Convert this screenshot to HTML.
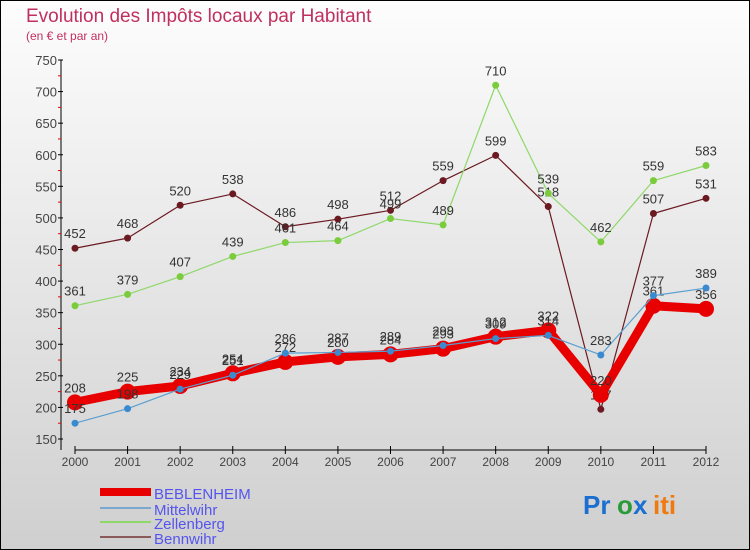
<!DOCTYPE html>
<html><head><meta charset="utf-8"><style>
body{margin:0;background:#fff}
svg{display:block;font-family:"Liberation Sans",sans-serif}
</style></head><body>
<svg id="c" width="750" height="550">
<defs><linearGradient id="bg" x1="0" y1="0" x2="0" y2="1"><stop offset="0" stop-color="#fdfdfd"/><stop offset="1" stop-color="#cfcfcf"/></linearGradient></defs>
<rect x="0.5" y="0.5" width="749" height="549" fill="url(#bg)" stroke="#000"/>
<text x="26" y="22" font-size="19" fill="#c0305f">Evolution des Impôts locaux par Habitant</text>
<text x="26" y="40" font-size="12" fill="#c0305f">(en € et par an)</text>
<g id="axes"></g><g id="series"></g><g id="legend"></g>
<g font-size="26" font-weight="bold">
<text x="583" y="514" fill="#1a6fd0">Pr</text><text x="617" y="514" fill="#2a9a3a">o</text><text x="633" y="514" fill="#1a6fd0">x</text><text x="653" y="514" fill="#f07a10">iti</text>
</g>
</svg>
<script>
const years=["2000","2001","2002","2003","2004","2005","2006","2007","2008","2009","2010","2011","2012"];
const yTicks=[150,200,250,300,350,400,450,500,550,600,650,700,750];
const beblenheim=[208,225,234,254,272,280,284,293,312,322,220,361,356];
const mittelwihr=[175,198,229,251,286,287,289,298,309,314,283,377,389];
const zellenberg=[361,379,407,439,461,464,499,489,710,539,462,559,583];
const bennwihr=[452,468,520,538,486,498,512,559,599,518,197,507,531];
const NS="http://www.w3.org/2000/svg";
function X(i){return 75+i*(706-75)/12;}
function Y(v){return 439-(v-150)*(439-60)/600;}
function mk(t,a,p){const e=document.createElementNS(NS,t);for(const k in a)e.setAttribute(k,a[k]);p.appendChild(e);return e;}
const ax=document.getElementById('axes');
mk('line',{x1:61,y1:Y(750),x2:61,y2:450,stroke:'#000'},ax);
mk('line',{x1:75,y1:450,x2:706,y2:450,stroke:'#000'},ax);
yTicks.forEach(v=>{
 mk('line',{x1:58,y1:Y(v),x2:63,y2:Y(v),stroke:'#000'},ax);
 if(v<750)mk('line',{x1:58,y1:Y(v+25),x2:61,y2:Y(v+25),stroke:'#e00'},ax);
 const t=mk('text',{x:57,y:Y(v)+5,'font-size':13,fill:'#444','text-anchor':'end'},ax);t.textContent=v;
 
 
});
years.forEach((y,i)=>{
 mk('line',{x1:X(i),y1:446,x2:X(i),y2:454,stroke:'#000'},ax);
 const t=mk('text',{x:X(i),y:466,'font-size':12,fill:'#444','text-anchor':'middle'},ax);t.textContent=y;
 
 
});
const sg=document.getElementById('series');
function draw(d,color,w,r,dot,name,stroke){
 const g=mk('g',{},sg);
 
 
 mk('polyline',{points:d.map((v,i)=>X(i)+','+Y(v)).join(' '),fill:'none',stroke:color,'stroke-width':w,'stroke-linejoin':'round'},g);
 d.forEach((v,i)=>{
  const c=mk('circle',{cx:X(i),cy:Y(v),r:r,fill:dot,stroke:stroke,'stroke-width':1},g);
  
  
  const t=mk('text',{x:X(i),y:Y(v)-10,'font-size':13,fill:'#333','text-anchor':'middle'},g);t.textContent=v;
 });
}
draw(bennwihr,'#6b1a22',1.2,3.5,'#6b1a22','#4a0a10','series-bennwihr');
draw(zellenberg,'#8ed86a',1.2,3.5,'#7acc3c','#4a9a20','series-zellenberg');
draw(beblenheim,'#e80000',9,8,'#e80000','#e80000','series-beblenheim');
draw(mittelwihr,'#5a9fd0',1.2,3.5,'#3a8ad0','#1a5a9a','series-mittelwihr');
const lg=document.getElementById('legend');
[["BEBLENHEIM","#e80000",8,492],["Mittelwihr","#7aa8d0",2,508],["Zellenberg","#8ed86a",2,522],["Bennwihr","#8a5a5a",2,537]].forEach(e=>{
 const g=mk('g',{},lg);
 
 
 mk('line',{x1:100,y1:e[3],x2:151,y2:e[3],stroke:e[1],'stroke-width':e[2]},g);
 const t=mk('text',{x:154,y:e[3]+7,'font-size':15,fill:'#5555ee'},g);t.textContent=e[0];
});
</script>
</body></html>
